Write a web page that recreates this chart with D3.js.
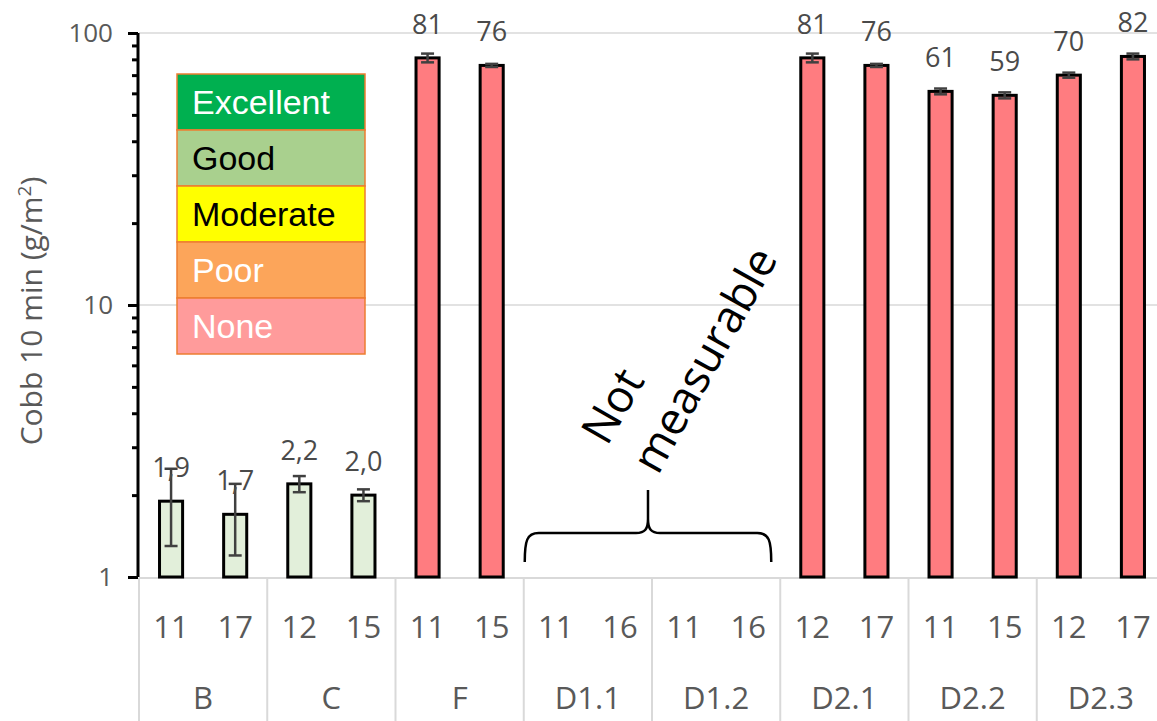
<!DOCTYPE html>
<html>
<head>
<meta charset="utf-8">
<script src="https://cdn.jsdelivr.net/npm/d3@7"></script>
<style>
  html, body { margin: 0; padding: 0; background: #fff; }
  svg { display: block; }
</style>
</head>
<body>
<svg id="chart" width="1157" height="721"></svg>
<script>
// Groups along the category axis and the two samples measured in each
const groups = ["B", "C", "F", "D1.1", "D1.2", "D2.1", "D2.2", "D2.3"];
const samples = [["11", "17"], ["12", "15"], ["11", "15"], ["11", "16"], ["11", "16"], ["12", "17"], ["11", "15"], ["12", "17"]];
// Cobb 10 min values (g/m²); null = not measurable
const cobbValues = [[1.9, 1.7], [2.2, 2.0], [81, 76], [null, null], [null, null], [81, 76], [61, 59], [70, 82]];
// Standard deviation of each measurement
const cobbErrors = [[0.6, 0.5], [0.15, 0.1], [3, 1], [null, null], [null, null], [3, 1], [1.5, 1.5], [1.5, 2]];
// Water-resistance class of each group
const groupClass = ["Good", "Good", "None", "None", "None", "None", "None", "None"];
// Legend classes
const classNames = ["Excellent", "Good", "Moderate", "Poor", "None"];
const yTicks = [1, 10, 100];
const yMinorTicks = [2, 3, 4, 5, 6, 7, 8, 9, 20, 30, 40, 50, 60, 70, 80, 90];

const classFill = { Excellent: "#00b050", Good: "#a9d08e", Moderate: "#ffff00", Poor: "#fca55a", None: "#ff9b9b" };
const classText = { Excellent: "#ffffff", Good: "#000000", Moderate: "#000000", Poor: "#ffffff", None: "#ffffff" };
const barFill = { Good: "#e2efda", None: "#ff7c80" };

const svg = d3.select("#chart");
const FONT = "'Open Sans', 'Noto Sans', sans-serif";

const plotTop = 33, plotBottom = 577, plotLeft = 139, plotRight = 1165;

const y = d3.scaleLog().domain([1, 100]).range([plotBottom, plotTop]);
const x0 = d3.scaleBand().domain(groups).range([plotLeft, plotRight]);
const x1 = d3.scaleBand().domain([0, 1]).range([0, x0.bandwidth()]).paddingInner(0.64).paddingOuter(0.32);

// Horizontal gridlines at the decades
svg.append("g").selectAll("line").data(yTicks.filter(d => d > 1)).join("line")
  .attr("x1", plotLeft).attr("x2", 1157)
  .attr("y1", d => y(d)).attr("y2", d => y(d))
  .attr("stroke", "#d9d9d9").attr("stroke-width", 1.5);

// Category axis baseline and group separators
svg.append("line").attr("x1", plotLeft).attr("x2", 1157)
  .attr("y1", plotBottom + 1).attr("y2", plotBottom + 1)
  .attr("stroke", "#d9d9d9").attr("stroke-width", 2);
const bounds = groups.map(g => x0(g)).concat([x0(groups[groups.length - 1]) + x0.bandwidth()]);
svg.append("g").selectAll("line").data(bounds).join("line")
  .attr("x1", d => d).attr("x2", d => d)
  .attr("y1", plotBottom + 1).attr("y2", 721)
  .attr("stroke", "#d9d9d9").attr("stroke-width", 2);

// Flatten to one record per bar
const bars = [];
groups.forEach((g, gi) => {
  samples[gi].forEach((s, si) => {
    bars.push({ group: g, idx: si, sample: s, value: cobbValues[gi][si], err: cobbErrors[gi][si], cls: groupClass[gi] });
  });
});
const measured = bars.filter(d => d.value != null);
const bx = d => x0(d.group) + x1(d.idx);

// Bars
svg.append("g").selectAll("rect").data(measured).join("rect")
  .attr("x", d => bx(d))
  .attr("y", d => y(d.value))
  .attr("width", x1.bandwidth())
  .attr("height", d => y(1) - y(d.value))
  .attr("fill", d => barFill[d.cls])
  .attr("stroke", "#000").attr("stroke-width", 3);

// Error bars
const eg = svg.append("g").attr("stroke", "#404040").attr("stroke-width", 2.5);
measured.forEach(d => {
  const cx = bx(d) + x1.bandwidth() / 2;
  const hi = y(d.value + d.err), lo = y(d.value - d.err);
  eg.append("line").attr("x1", cx).attr("x2", cx).attr("y1", hi).attr("y2", lo);
  eg.append("line").attr("x1", cx - 6.5).attr("x2", cx + 6.5).attr("y1", hi).attr("y2", hi);
  eg.append("line").attr("x1", cx - 6.5).attr("x2", cx + 6.5).attr("y1", lo).attr("y2", lo);
});

// Value labels above the bars (decimal comma)
const fmtVal = v => v < 10 ? d3.format(".1f")(v).replace(".", ",") : d3.format(".0f")(v);
svg.append("g").selectAll("text").data(measured).join("text")
  .attr("x", d => bx(d) + x1.bandwidth() / 2)
  .attr("y", d => y(d.value) - 24)
  .attr("text-anchor", "middle")
  .attr("font-family", FONT).attr("font-size", 27).attr("fill", "#4a4a4a")
  .text(d => fmtVal(d.value));

// Value axis (log scale) with minor ticks
const yAxis = svg.append("g").attr("transform", `translate(${plotLeft - 1},0)`)
  .call(d3.axisLeft(y).tickValues(yTicks).tickFormat(d3.format("d")).tickSize(10).tickPadding(15));
yAxis.select(".domain").attr("stroke", "#000").attr("stroke-width", 3).attr("d", `M0,${plotTop}V${plotBottom}`);
yAxis.selectAll(".tick line").attr("stroke", "#000").attr("stroke-width", 3);
yAxis.selectAll(".tick text").attr("font-family", FONT).attr("font-size", 26).attr("fill", "#595959");
const yMinor = svg.append("g").attr("transform", `translate(${plotLeft - 1},0)`)
  .call(d3.axisLeft(y).tickValues(yMinorTicks).tickFormat("").tickSize(6));
yMinor.select(".domain").remove();
yMinor.selectAll(".tick line").attr("stroke", "#000").attr("stroke-width", 3);

// Axis title
const title = svg.append("text")
  .attr("transform", "translate(42,311) rotate(-90)")
  .attr("text-anchor", "middle")
  .attr("font-family", FONT).attr("font-size", 30).attr("fill", "#595959");
title.append("tspan").text("Cobb 10 min (g/m");
title.append("tspan").attr("font-size", 19).attr("dy", -11).text("2");
title.append("tspan").attr("dy", 11).text(")");

// Sample labels and group labels on the category axis
svg.append("g").selectAll("text").data(bars).join("text")
  .attr("x", d => bx(d) + x1.bandwidth() / 2)
  .attr("y", 638)
  .attr("text-anchor", "middle")
  .attr("font-family", FONT).attr("font-size", 31).attr("fill", "#595959")
  .text(d => d.sample);
svg.append("g").selectAll("text").data(groups).join("text")
  .attr("x", d => x0(d) + x0.bandwidth() / 2)
  .attr("y", 709)
  .attr("text-anchor", "middle")
  .attr("font-family", FONT).attr("font-size", 31).attr("fill", "#595959")
  .text(d => d);

// Classification legend
const lgX = 177, lgY = 74, lgW = 188, lgH = 56;
const lg = svg.append("g");
lg.selectAll("rect").data(classNames).join("rect")
  .attr("x", lgX).attr("y", (d, i) => lgY + i * lgH)
  .attr("width", lgW).attr("height", lgH)
  .attr("fill", d => classFill[d])
  .attr("stroke", "#ed7d31").attr("stroke-width", 1.5);
lg.selectAll("text").data(classNames).join("text")
  .attr("x", lgX + 15).attr("y", (d, i) => lgY + i * lgH + 40)
  .attr("font-family", "'Liberation Sans', Arial, sans-serif").attr("font-size", 34)
  .attr("fill", d => classText[d])
  .text(d => d);

// Brace over the groups that could not be measured
const bL = x0("D1.1") + 1, bR = x0("D2.1") - 9;
const bM = (bL + bR) / 2, bTop = 533, bEnd = 562, bTip = 490;
svg.append("path")
  .attr("d", `M${bL},${bEnd} C${bL},${bTop + 8} ${bL + 2},${bTop} ${bL + 14},${bTop} L${bM - 12},${bTop} C${bM - 3},${bTop} ${bM},${bTop - 4} ${bM},${bTop - 14} L${bM},${bTip} M${bM},${bTop - 14} C${bM},${bTop - 4} ${bM + 3},${bTop} ${bM + 12},${bTop} L${bR - 14},${bTop} C${bR - 2},${bTop} ${bR},${bTop + 8} ${bR},${bEnd}`)
  .attr("fill", "none").attr("stroke", "#000").attr("stroke-width", 2.5);

svg.append("text").attr("transform", "translate(607,447) rotate(-60)")
  .attr("font-family", FONT).attr("font-size", 45).attr("fill", "#000").text("Not");
svg.append("text").attr("transform", "translate(658,476) rotate(-61)")
  .attr("font-family", FONT).attr("font-size", 45).attr("fill", "#000").text("measurable");
</script>
</body>
</html>
